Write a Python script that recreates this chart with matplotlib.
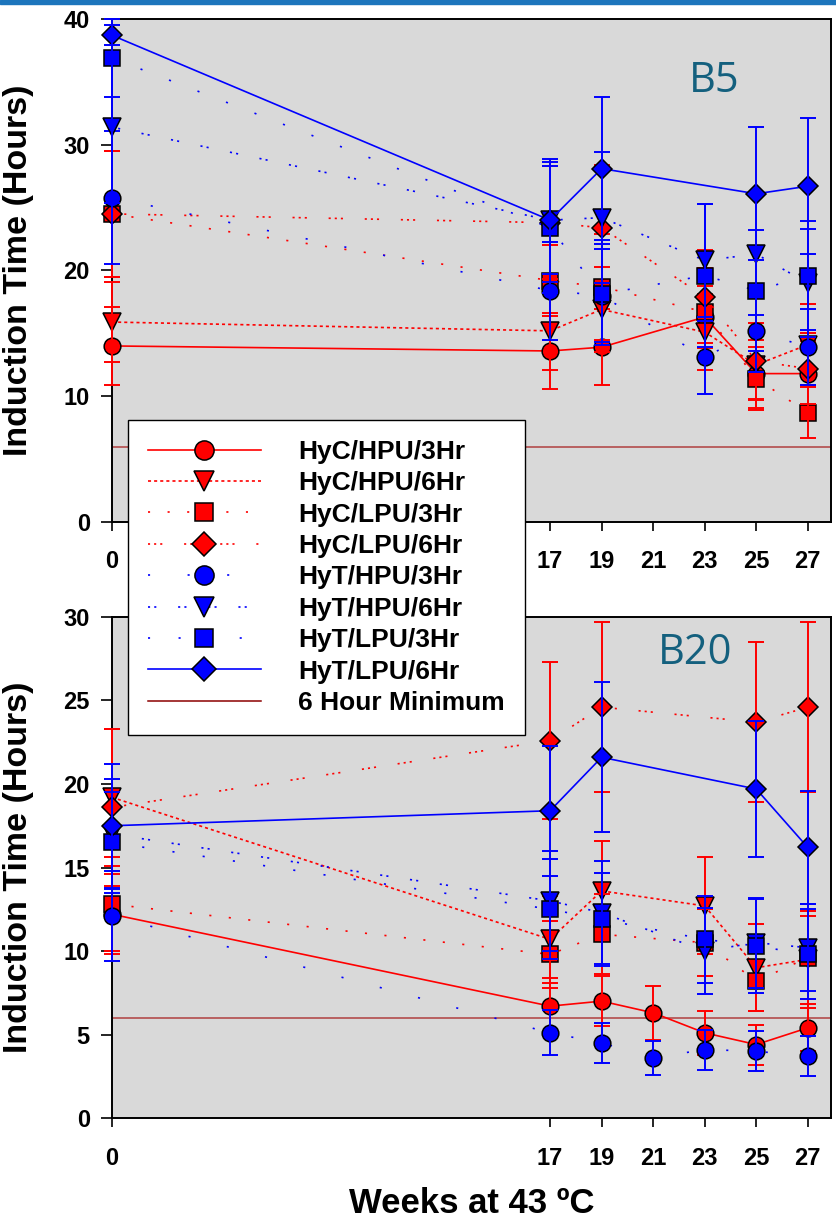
import matplotlib
matplotlib.use("Agg")
import matplotlib.pyplot as plt
from matplotlib.lines import Line2D
from matplotlib.patches import Rectangle

plt.rcParams['font.family'] = ['Liberation Sans', 'DejaVu Sans']
plt.rcParams['lines.scale_dashes'] = False

# ---- data ----
labels = ['HyC/HPU/3Hr', 'HyC/HPU/6Hr', 'HyC/LPU/3Hr', 'HyC/LPU/6Hr',
          'HyT/HPU/3Hr', 'HyT/HPU/6Hr', 'HyT/LPU/3Hr', 'HyT/LPU/6Hr']
xticks = [0, 17, 19, 21, 23, 25, 27]

# B5 panel
b5_x = [0, 17, 19, 23, 25, 27]
b5_x_diam = [0, 17, 19, 25, 27]
b5_hyc_hpu_3 = [14.0, 13.6, 13.9, 16.3, 11.8, 11.8]
b5_hyc_hpu_3_err = [3.1, 3.0, 3.0, 2.5, 2.7, 2.6]
b5_hyc_hpu_6 = [15.9, 15.2, 16.9, 15.1, 12.5, 14.1]
b5_hyc_hpu_6_err = [3.2, 3.1, 3.4, 3.0, 2.8, 3.2]
b5_hyc_lpu_3 = [24.5, 19.2, 18.7, 16.7, 11.4, 8.7]
b5_hyc_lpu_3_err = [5.0, 2.8, 4.2, 3.5, 2.5, 2.0]
b5_hyc_lpu_6 = [24.5, 23.8, 23.4, 17.9, 12.8, 12.2]
b5_hyc_lpu_6_err = [5.0, 4.5, 5.0, 3.7, 3.0, 2.8]
b5_hyt_hpu_3 = [25.8, 18.4, 18.0, 13.1, 15.2, 13.9]
b5_hyt_hpu_3_err = [5.3, 3.9, 3.7, 2.9, 3.3, 3.0]
b5_hyt_hpu_6 = [31.4, 24.0, 24.2, 20.8, 21.3, 19.0]
b5_hyt_hpu_6_err = [6.0, 4.3, 5.2, 4.5, 4.8, 4.3]
b5_hyt_lpu_3 = [36.9, 23.4, 18.1, 19.6, 18.4, 19.6]
b5_hyt_lpu_3_err = [3.1, 5.2, 4.0, 5.7, 4.8, 4.3]
b5_hyt_lpu_6 = [38.7, 24.0, 28.1, 26.1, 26.7]
b5_hyt_lpu_6_err = [0.8, 4.9, 5.7, 5.3, 5.4]

# B20 panel
b20_x = [0, 17, 19, 23, 25, 27]
b20_x_full = [0, 17, 19, 21, 23, 25, 27]
b20_x_diam = [0, 17, 19, 25, 27]
b20_hyc_hpu_3 = [12.2, 6.7, 7.0, 6.3, 5.1, 4.4, 5.4]
b20_hyc_hpu_3_err = [2.4, 1.7, 1.5, 1.6, 1.3, 1.2, 1.4]
b20_hyc_hpu_6 = [19.2, 10.7, 13.6, 12.7, 9.0, 9.5]
b20_hyc_hpu_6_err = [4.1, 2.6, 3.0, 2.9, 2.6, 2.9]
b20_hyc_lpu_3 = [12.8, 9.8, 11.0, 10.5, 8.2, 9.6]
b20_hyc_lpu_3_err = [2.8, 2.0, 2.4, 2.0, 1.8, 2.5]
b20_hyc_lpu_6 = [18.6, 22.6, 24.6, 23.7, 24.6]
b20_hyc_lpu_6_err = [4.7, 4.7, 5.1, 4.8, 5.1]
b20_hyt_hpu_3 = [12.1, 5.1, 4.5, 3.6, 4.1, 4.0, 3.7]
b20_hyt_hpu_3_err = [2.7, 1.35, 1.2, 1.0, 1.2, 1.2, 1.2]
b20_hyt_hpu_6 = [17.0, 13.0, 12.3, 10.0, 10.5, 10.2]
b20_hyt_hpu_6_err = [3.3, 3.0, 3.1, 2.6, 2.7, 2.6]
b20_hyt_lpu_3 = [16.5, 12.5, 11.9, 10.7, 10.3, 9.8]
b20_hyt_lpu_3_err = [3.0, 3.0, 2.8, 2.6, 2.8, 2.7]
b20_hyt_lpu_6 = [17.5, 18.4, 21.6, 19.7, 16.2]
b20_hyt_lpu_6_err = [3.7, 3.9, 4.5, 4.1, 3.4]

minimum_hours = 6

# ---- styles ----
RED = '#ff0000'
BLUE = '#0000ff'
styles = [
    dict(color=RED, marker='o', ms=12, ls='-'),
    dict(color=RED, marker='v', ms=13, ls=(0, (2.2, 2.2))),
    dict(color=RED, marker='s', ms=11, ls=(0, (1.5, 12.6))),
    dict(color=RED, marker='D', ms=10.5, ls=(0, (1.5, 2.9, 1.5, 2.9, 1.5, 15.7))),
    dict(color=BLUE, marker='o', ms=12, ls=(0, (1.5, 27))),
    dict(color=BLUE, marker='v', ms=13, ls=(0, (1.5, 3.0, 1.5, 15.7))),
    dict(color=BLUE, marker='s', ms=11, ls=(0, (1.5, 20.5))),
    dict(color=BLUE, marker='D', ms=10.5, ls='-'),
]

b5_series = [
    (b5_x, b5_hyc_hpu_3, b5_hyc_hpu_3_err),
    (b5_x, b5_hyc_hpu_6, b5_hyc_hpu_6_err),
    (b5_x, b5_hyc_lpu_3, b5_hyc_lpu_3_err),
    (b5_x, b5_hyc_lpu_6, b5_hyc_lpu_6_err),
    (b5_x, b5_hyt_hpu_3, b5_hyt_hpu_3_err),
    (b5_x, b5_hyt_hpu_6, b5_hyt_hpu_6_err),
    (b5_x, b5_hyt_lpu_3, b5_hyt_lpu_3_err),
    (b5_x_diam, b5_hyt_lpu_6, b5_hyt_lpu_6_err),
]
b20_series = [
    (b20_x_full, b20_hyc_hpu_3, b20_hyc_hpu_3_err),
    (b20_x, b20_hyc_hpu_6, b20_hyc_hpu_6_err),
    (b20_x, b20_hyc_lpu_3, b20_hyc_lpu_3_err),
    (b20_x_diam, b20_hyc_lpu_6, b20_hyc_lpu_6_err),
    (b20_x_full, b20_hyt_hpu_3, b20_hyt_hpu_3_err),
    (b20_x, b20_hyt_hpu_6, b20_hyt_hpu_6_err),
    (b20_x, b20_hyt_lpu_3, b20_hyt_lpu_3_err),
    (b20_x_diam, b20_hyt_lpu_6, b20_hyt_lpu_6_err),
]

fig = plt.figure(figsize=(8.36, 12.32), dpi=100)
fig.patches.append(Rectangle((0, 1 - 4 / 1232), 1, 4 / 1232, transform=fig.transFigure,
                             color='#1c75bc', zorder=10))

ax1 = fig.add_axes([0.134, 0.5763, 0.860, 0.4083])
ax2 = fig.add_axes([0.134, 0.0925, 0.860, 0.4067])


def draw_panel(ax, series, ymax, ystep, tag, tag_pos):
    ax.set_facecolor('#d9d9d9')
    ax.axhline(minimum_hours, color='#b04040', lw=1.1, zorder=1)
    handles = []
    for (x, y, e), st in zip(series, styles):
        ln, = ax.plot(x, y, color=st['color'], ls=st['ls'], lw=1.2,
                      marker=st['marker'], ms=st['ms'], mfc=st['color'],
                      mec='black', mew=1.1, clip_on=False, zorder=3,
                      dash_capstyle='butt')
        ax.errorbar(x, y, yerr=e, fmt='none', ecolor=st['color'], elinewidth=1.4,
                    capsize=5.5, capthick=1.4, zorder=3, clip_on=False)
        handles.append(ln)
    ax.set_xlim(0, 27.9)
    ax.set_ylim(0, ymax)
    ax.set_xticks(xticks)
    ax.set_yticks(range(0, ymax + 1, ystep))
    ax.tick_params(axis='x', direction='out', length=6.5, width=1.2, pad=14,
                   labelsize=17)
    ax.tick_params(axis='y', direction='out', length=8, width=1.2, pad=8,
                   labelsize=17)
    for lab in ax.get_xticklabels() + ax.get_yticklabels():
        lab.set_fontweight('bold')
    for sp in ax.spines.values():
        sp.set_linewidth(1.4)
        sp.set_color('black')
    ax.set_ylabel('Induction Time (Hours)', fontsize=24.5, fontweight='bold')
    ax.yaxis.set_label_coords(-0.108, 0.5)
    ax.text(tag_pos[0], tag_pos[1], tag, transform=ax.transAxes, ha='center',
            va='center', fontsize=30, color='#14607e',
            family=['Open Sans', 'DejaVu Sans'])
    return handles


handles = draw_panel(ax1, b5_series, 40, 10, 'B5', (0.837, 0.877))
draw_panel(ax2, b20_series, 30, 5, 'B20', (0.811, 0.928))

ax2.set_xlabel('Weeks at 43 \u00baC', fontsize=25, fontweight='bold')
ax2.xaxis.set_label_coords(0.5, -0.138)

min_handle = Line2D([], [], color='#8b0000', lw=1.1)
fig.legend(handles + [min_handle], labels + ['6 Hour Minimum'],
           loc='upper left', bbox_to_anchor=(0.153, 0.659),
           bbox_transform=fig.transFigure, borderaxespad=0,
           prop=dict(weight='bold', size=19), frameon=True, fancybox=False,
           edgecolor='black', facecolor='white', framealpha=1,
           handlelength=4.3, handletextpad=1.4, labelspacing=0.28,
           borderpad=0.75, numpoints=1, markerscale=1.15)

fig.savefig('out.png', dpi=100)
